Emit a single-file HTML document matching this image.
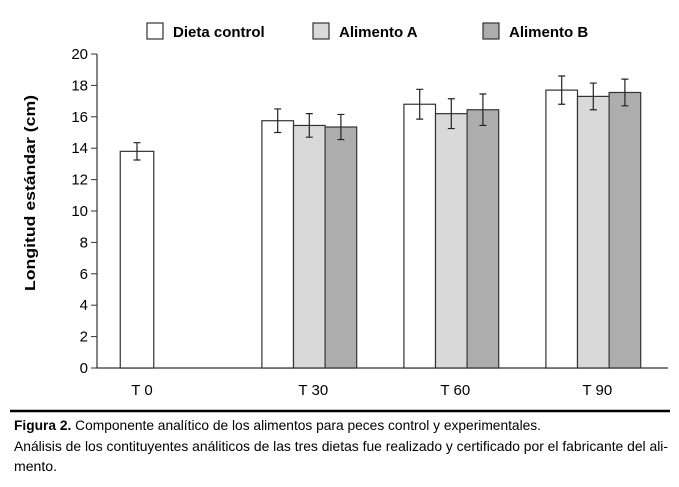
<!DOCTYPE html>
<html><head><meta charset="utf-8"><style>
body{margin:0;background:#fff}
svg{display:block;font-family:"Liberation Sans",Arial,sans-serif}
</style></head><body>
<svg id="c" width="679" height="487">
<g id="legend"></g>
<text transform="translate(35,193) rotate(-90)" text-anchor="middle" font-size="15" font-weight="bold" textLength="196" lengthAdjust="spacingAndGlyphs">Longitud estándar (cm)</text>
<g id="axes"></g>
<g id="bars"></g>
<line x1="10" y1="411" x2="670" y2="411" stroke="#000" stroke-width="2.5"/>
<g font-size="14">
<text x="14" y="430" textLength="527" lengthAdjust="spacingAndGlyphs"><tspan font-weight="bold">Figura 2.</tspan> Componente analítico de los alimentos para peces control y experimentales.</text>
<text x="14" y="451" textLength="654" lengthAdjust="spacingAndGlyphs">Análisis de los contituyentes análiticos de las tres dietas fue realizado y certificado por el fabricante del ali-</text>
<text x="14" y="471" textLength="43" lengthAdjust="spacingAndGlyphs">mento.</text>
</g>
</svg>
<script>
const categories=["T 0","T 30","T 60","T 90"];
const seriesNames=["Dieta control","Alimento A","Alimento B"];
const control=[13.8,15.75,16.8,17.7];
const alimentoA=[null,15.45,16.2,17.3];
const alimentoB=[null,15.35,16.45,17.55];
const errControl=[0.55,0.75,0.95,0.9];
const errA=[null,0.75,0.95,0.85];
const errB=[null,0.8,1.0,0.85];
const yTicks=[0,2,4,6,8,10,12,14,16,18,20];

const NS="http://www.w3.org/2000/svg";
const fills=["#ffffff","#d9d9d9","#adadad"];
const y0=368,y1=54,ymax=20;
const axX=97;
function y(v){return y0-(v/ymax)*(y0-y1);}
function xc(i){return i===0?137:309.3+142*(i-1);}
const bw=31.6;
function mk(tag,attrs,parent){const e=document.createElementNS(NS,tag);for(const k in attrs)e.setAttribute(k,attrs[k]);parent.appendChild(e);return e;}
const axes=document.getElementById('axes'),bars=document.getElementById('bars'),leg=document.getElementById('legend');

let ax=mk('line',{x1:axX,y1:y(ymax),x2:axX,y2:y0,stroke:'#333','stroke-width':1.2},axes);


let bx=mk('line',{x1:axX,y1:y0,x2:668,y2:y0,stroke:'#333','stroke-width':1.2},axes);


yTicks.forEach(t=>{
 const tk=mk('line',{x1:axX-6,x2:axX,y1:y(t),y2:y(t),stroke:'#333'},axes);
 
 
 const tl=mk('text',{x:axX-9,y:y(t)+5,'text-anchor':'end','font-size':15},axes);
 tl.textContent=t;
 
 
});
categories.forEach((c,i)=>{
 const tl=mk('text',{x:i===0?xc(i)+5:xc(i)+4,y:395,'text-anchor':'middle','font-size':15},axes);
 tl.textContent=c;
 
 
});
const series=[control,alimentoA,alimentoB],errs=[errControl,errA,errB];
categories.forEach((c,i)=>{
 const n=series.filter(s=>s[i]!=null).length;
 const w=i===0?33.5:bw;
 series.forEach((s,j)=>{
  if(s[i]==null)return;
  const x=xc(i)-n*w/2+j*w;
  const r=mk('rect',{x:x,y:y(s[i]),width:w,height:y0-y(s[i]),fill:fills[j],stroke:'#333','stroke-width':1.2},bars);
  
  
  const cx=x+w/2,e=errs[j][i];
  const g=mk('path',{d:`M${cx},${y(s[i]+e)}V${y(s[i]-e)}M${cx-3.5},${y(s[i]+e)}H${cx+3.5}M${cx-3.5},${y(s[i]-e)}H${cx+3.5}`,stroke:'#222','stroke-width':1.2,fill:'none'},bars);
  
  
 });
});
const lx=[147,313,483];
seriesNames.forEach((n,j)=>{
 const r=mk('rect',{x:lx[j],y:23,width:16,height:16,fill:fills[j],stroke:'#333','stroke-width':1.2},leg);
 
 
 const t=mk('text',{x:lx[j]+26,y:37,'font-size':15,'font-weight':'bold'},leg);
 t.textContent=n;
 
 
});
</script>
</body></html>
